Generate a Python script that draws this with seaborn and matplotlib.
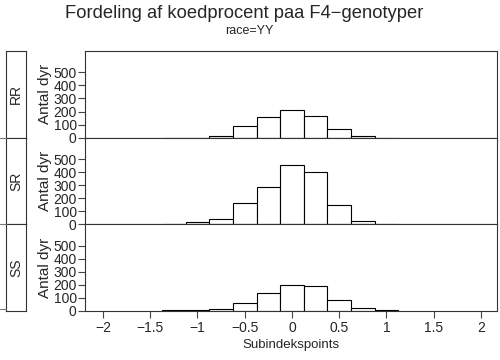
import numpy as np
import pandas as pd
import matplotlib
matplotlib.use('Agg')
from matplotlib import pyplot as plt
from matplotlib.lines import Line2D
import seaborn as sns

# bin centres (width 0.25) and counts
centers = [-1.25, -1.0, -0.75, -0.5, -0.25, 0.0, 0.25, 0.5, 0.75, 1.0]
rr_counts = [0, 0, 15, 88, 157, 210, 169, 64, 10, 0]
sr_counts = [0, 15, 45, 162, 285, 455, 401, 149, 23, 0]
ss_counts = [5, 8, 18, 59, 141, 197, 195, 85, 26, 5]
genotypes = ['RR', 'SR', 'SS']
yticks = [0, 100, 200, 300, 400, 500]
xticks = [-2, -1.5, -1, -0.5, 0, 0.5, 1, 1.5, 2]

rows = []
for g, counts in zip(genotypes, [rr_counts, sr_counts, ss_counts]):
    for c, n in zip(centers, counts):
        rows.append({'geno': g, 'x': c, 'n': n})
df = pd.DataFrame(rows)

sns.set_style('white')
plt.rcParams['font.family'] = ['Liberation Sans', 'DejaVu Sans']

fig = plt.figure(figsize=(5, 3.6), dpi=100)
W, H = 500.0, 360.0
tops = [51, 137.7, 224.3]
ph = 86.7

for i, g in enumerate(genotypes):
    y0 = 1 - (tops[i] + ph) / H
    ax = fig.add_axes([85 / W, y0, 412 / W, ph / H])
    sub = df[df.geno == g]
    sns.histplot(data=sub, x='x', weights='n', binwidth=0.25, binrange=(-1.375, 1.125),
                 ax=ax, color='white', edgecolor='black', linewidth=0.8, alpha=1)
    ax.set_xlim(-2.19, 2.17)
    ax.set_ylim(0, 663)
    ax.set_yticks(yticks)
    ax.set_yticklabels([str(t) for t in yticks], fontsize=10)
    ax.tick_params(axis='y', left=True, length=5, width=0.8, pad=1, color='#444444')
    ax.set_ylabel('Antal dyr', fontsize=11, labelpad=1)
    for s in ax.spines.values():
        s.set_color('#333333')
        s.set_linewidth(0.8)
    if i < 2:
        ax.set_xticks([])
        ax.set_xlabel('')
    else:
        ax.set_xticks(xticks)
        ax.set_xticklabels([f'{t:g}'.replace('-', '\u2212') for t in xticks], fontsize=10)
        ax.tick_params(axis='x', bottom=True, length=5, width=0.8, pad=2, color='#444444')
        ax.set_xlabel('Subindekspoints', fontsize=9.5, labelpad=3)

    # strip with genotype label on the left
    sx = fig.add_axes([6 / W, y0, 19.7 / W, ph / H])
    sx.set_xticks([])
    sx.set_yticks([])
    for s in sx.spines.values():
        s.set_color('#333333')
        s.set_linewidth(0.8)
    sx.text(0.5, 0.5, g, rotation=90, ha='center', va='center', fontsize=10,
            transform=sx.transAxes)

for yy in [137.7, 224.3, 309]:
    fig.add_artist(Line2D([0, 6 / W], [1 - yy / H, 1 - yy / H], color='#777777', lw=0.8))

fig.text(244 / W, 1 - 14 / H, 'Fordeling af koedprocent paa F4\u2212genotyper',
         ha='center', va='center', fontsize=13.2)
fig.text(249 / W, 1 - 31 / H, 'race=YY', ha='center', va='center', fontsize=9)

fig.savefig('out.png', dpi=100)
